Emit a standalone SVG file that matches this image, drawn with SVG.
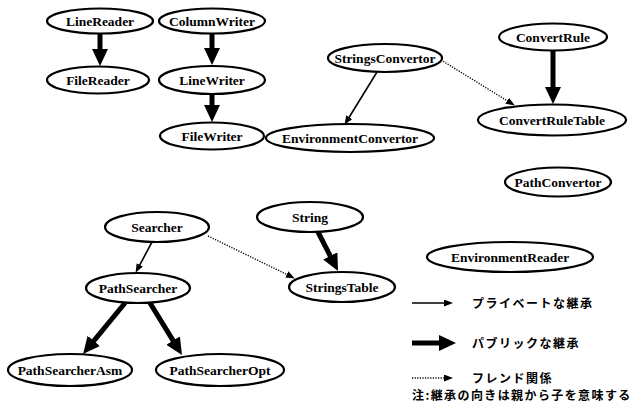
<svg xmlns="http://www.w3.org/2000/svg" width="633" height="410" viewBox="0 0 633 410">
<style>
.node ellipse{fill:#fff;stroke:#000;stroke-width:2.2}
.node text{font-family:"Liberation Serif","DejaVu Serif",serif;font-weight:bold;font-size:13.5px;text-anchor:middle;fill:#000}
.thick{stroke:#000;stroke-width:5;fill:none}
.thin{stroke:#000;stroke-width:1.6;fill:none}
.dot{stroke:#000;stroke-width:1.4;stroke-dasharray:1.2 1.4;fill:none}
.jp{font-family:"Noto Sans CJK JP","Noto Sans",sans-serif;font-weight:bold;font-size:12px;letter-spacing:1.5px;fill:#000}
</style>
<defs>
<marker id="hThick" markerUnits="userSpaceOnUse" markerWidth="20" markerHeight="18" refX="1" refY="8" orient="auto"><path d="M0,0 L17,8 L0,16 z" fill="#000"/></marker>
<marker id="hThin" markerUnits="userSpaceOnUse" markerWidth="10" markerHeight="8" refX="1" refY="3.5" orient="auto"><path d="M0,0 L9,3.5 L0,7 z" fill="#000"/></marker>
</defs>
<rect width="633" height="410" fill="#fff"/>
<g id="connectors">
<line class="thick" x1="100" y1="33" x2="100" y2="50" marker-end="url(#hThick)"/>
<line class="thick" x1="212" y1="34" x2="212" y2="49" marker-end="url(#hThick)"/>
<line class="thick" x1="212" y1="94" x2="212" y2="106" marker-end="url(#hThick)"/>
<line class="thick" x1="553" y1="50" x2="553" y2="88" marker-end="url(#hThick)"/>
<line class="thick" x1="318" y1="232" x2="330.7" y2="256.8" marker-end="url(#hThick)"/>
<line class="thick" x1="125" y1="303" x2="93.2" y2="341.7" marker-end="url(#hThick)"/>
<line class="thick" x1="150" y1="303" x2="173.6" y2="341.4" marker-end="url(#hThick)"/>
<line class="thin" x1="377" y1="72" x2="348.7" y2="118" marker-end="url(#hThin)"/>
<line class="thin" x1="152" y1="242" x2="139.3" y2="265.8" marker-end="url(#hThin)"/>
<line class="dot" x1="441" y1="60" x2="508" y2="101.3" marker-end="url(#hThin)"/>
<line class="dot" x1="208" y1="236" x2="287.7" y2="274.9" marker-end="url(#hThin)"/>
</g>
<g id="LineReader" class="node"><ellipse cx="100" cy="21" rx="53" ry="12.5"/><text x="100" y="25.5">LineReader</text></g>
<g id="ColumnWriter" class="node"><ellipse cx="212" cy="21" rx="53" ry="12.5"/><text x="212" y="25.5">ColumnWriter</text></g>
<g id="FileReader" class="node"><ellipse cx="98" cy="80" rx="51" ry="13.5"/><text x="98" y="84.5">FileReader</text></g>
<g id="LineWriter" class="node"><ellipse cx="212" cy="80" rx="53" ry="14"/><text x="212" y="84.5">LineWriter</text></g>
<g id="FileWriter" class="node"><ellipse cx="212" cy="136" rx="52" ry="13.5"/><text x="212" y="140.5">FileWriter</text></g>
<g id="StringsConvertor" class="node"><ellipse cx="385" cy="58" rx="57" ry="14"/><text x="385" y="62.5">StringsConvertor</text></g>
<g id="EnvironmentConvertor" class="node"><ellipse cx="350" cy="138" rx="84" ry="14"/><text x="350" y="142.5">EnvironmentConvertor</text></g>
<g id="ConvertRule" class="node"><ellipse cx="553" cy="37" rx="54" ry="13.5"/><text x="553" y="41.5">ConvertRule</text></g>
<g id="ConvertRuleTable" class="node"><ellipse cx="552" cy="120" rx="74" ry="15.5"/><text x="552" y="124.5">ConvertRuleTable</text></g>
<g id="PathConvertor" class="node"><ellipse cx="558" cy="182" rx="53" ry="14.5"/><text x="558" y="186.5">PathConvertor</text></g>
<g id="EnvironmentReader" class="node"><ellipse cx="510" cy="257" rx="83" ry="15"/><text x="510" y="261.5">EnvironmentReader</text></g>
<g id="Searcher" class="node"><ellipse cx="157" cy="227" rx="52" ry="15"/><text x="157" y="231.5">Searcher</text></g>
<g id="String" class="node"><ellipse cx="310" cy="217" rx="53" ry="15"/><text x="310" y="221.5">String</text></g>
<g id="PathSearcher" class="node"><ellipse cx="138" cy="288" rx="52" ry="15"/><text x="138" y="292.5">PathSearcher</text></g>
<g id="StringsTable" class="node"><ellipse cx="342" cy="287" rx="53" ry="15"/><text x="342" y="291.5">StringsTable</text></g>
<g id="PathSearcherAsm" class="node"><ellipse cx="70" cy="370" rx="62" ry="16"/><text x="70" y="374.5">PathSearcherAsm</text></g>
<g id="PathSearcherOpt" class="node"><ellipse cx="220" cy="370" rx="64" ry="16"/><text x="220" y="374.5">PathSearcherOpt</text></g>
<g id="legend">
<line class="thin" x1="412" y1="303" x2="445" y2="303" marker-end="url(#hThin)"/>
<text class="jp" x="472" y="307.5">プライベートな継承</text>
<line class="thick" x1="412" y1="343" x2="440" y2="343" marker-end="url(#hThick)"/>
<text class="jp" x="472" y="347.5">パブリックな継承</text>
<line class="dot" x1="412" y1="378" x2="445" y2="378" marker-end="url(#hThin)"/>
<text class="jp" x="472" y="382.5">フレンド関係</text>
<text class="jp" x="412" y="400" style="letter-spacing:1.4px">注:継承の向きは親から子を意味する</text>
</g>
</svg>
